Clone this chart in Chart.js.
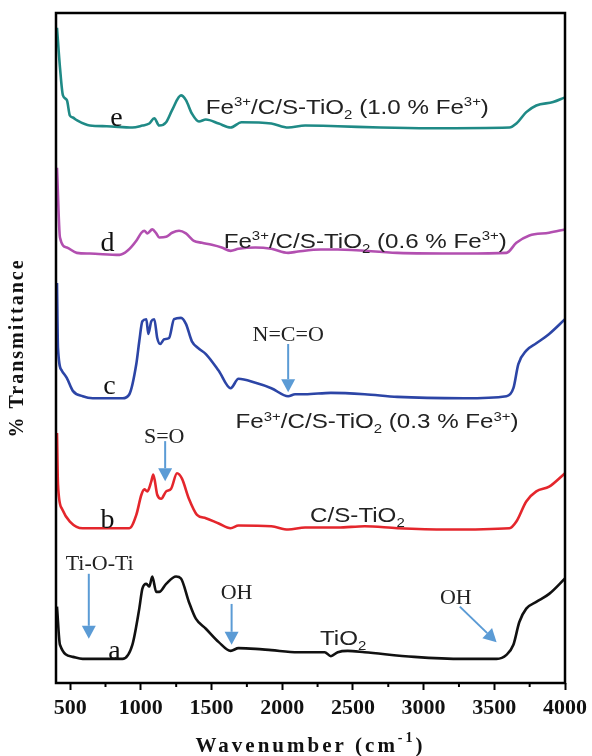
<!DOCTYPE html>
<html>
<head>
<meta charset="utf-8">
<script src="https://cdn.jsdelivr.net/npm/chart.js@4.4.1/dist/chart.umd.min.js"></script>
<style>
  html, body { margin: 0; padding: 0; background: #fff; }
  canvas { display: block; }
</style>
</head>
<body>
<canvas id="chart" width="592" height="756"></canvas>
<script>
// FTIR spectra, wavenumber (cm-1) vs. transmittance, curves offset for stacking
// a: TiO2
const waveA  = [407, 428, 519, 589, 870, 940, 989, 1011, 1039, 1060, 1081, 1109, 1130, 1179, 1249, 1284, 1340, 1389, 1460, 1551, 1635, 1691, 1811, 1923, 2112, 2300, 2344, 2393, 2463, 2583, 2934, 3284, 3516, 3586, 3635, 3677, 3726, 3797, 3888, 4000];
const transA = [11.4, 5.7, 3.9, 3.6, 3.6, 5.7, 11.1, 14.1, 14.8, 14.4, 15.9, 13.6, 13.6, 14.8, 15.9, 15.6, 12.1, 9.6, 8.1, 6.1, 4.8, 5.2, 5.1, 4.9, 4.6, 4.6, 4.0, 4.6, 4.8, 4.6, 3.9, 3.6, 3.6, 4.2, 5.7, 9.1, 11.1, 12.1, 13.3, 15.6];

// b: C/S-TiO2
const waveB  = [407, 414, 442, 498, 589, 919, 968, 1004, 1025, 1046, 1074, 1088, 1116, 1144, 1179, 1214, 1256, 1291, 1340, 1397, 1460, 1551, 1635, 1691, 1923, 2042, 2162, 2393, 2583, 2814, 3165, 3607, 3656, 3726, 3797, 3888, 4000];
const transB = [37.3, 29.6, 26.0, 24.1, 23.1, 23.1, 25.1, 28.1, 28.9, 28.6, 30.1, 31.1, 28.1, 27.5, 28.6, 29.0, 31.3, 30.5, 27.5, 25.1, 24.6, 23.8, 23.1, 23.5, 23.4, 22.9, 23.2, 23.2, 23.4, 23.1, 22.9, 23.1, 24.1, 27.1, 28.6, 29.3, 31.3];

// c: Fe3+/C/S-TiO2 (0.3 % Fe3+)
const waveC  = [407, 414, 442, 477, 519, 589, 660, 870, 919, 968, 989, 1011, 1039, 1053, 1074, 1095, 1116, 1137, 1165, 1200, 1235, 1284, 1319, 1361, 1411, 1460, 1551, 1635, 1691, 1811, 1923, 2042, 2091, 2162, 2344, 2583, 2814, 3284, 3586, 3635, 3670, 3726, 3797, 3888, 4000];
const transC = [59.7, 50.0, 46.6, 45.5, 43.6, 42.8, 42.5, 42.5, 43.1, 47.6, 51.0, 54.0, 54.3, 52.1, 54.0, 54.3, 51.5, 50.6, 51.3, 51.5, 54.3, 54.5, 53.6, 51.0, 49.9, 49.1, 46.6, 44.0, 45.4, 44.8, 44.0, 42.8, 43.1, 43.1, 43.3, 43.1, 42.7, 42.5, 42.8, 44.0, 47.6, 49.6, 50.7, 52.1, 54.3];

// d: Fe3+/C/S-TiO2 (0.6 % Fe3+)
const waveD  = [407, 428, 477, 547, 639, 849, 905, 968, 1004, 1025, 1046, 1081, 1109, 1130, 1179, 1221, 1270, 1319, 1375, 1432, 1502, 1572, 1635, 1691, 1811, 1923, 2042, 2112, 2274, 2393, 2814, 3284, 3586, 3656, 3748, 3888, 4000];
const transD = [76.9, 66.5, 65.0, 64.2, 64.1, 63.9, 64.5, 66.0, 67.2, 67.5, 67.1, 67.7, 67.1, 66.5, 66.6, 67.2, 67.5, 67.1, 66.0, 65.7, 65.4, 65.0, 64.5, 64.8, 65.0, 64.8, 64.2, 64.4, 64.7, 64.7, 64.2, 64.1, 64.2, 65.7, 66.8, 67.2, 67.7];

// e: Fe3+/C/S-TiO2 (1.0 % Fe3+)
const waveE  = [407, 428, 449, 477, 498, 519, 547, 639, 758, 940, 1011, 1060, 1095, 1130, 1179, 1221, 1284, 1319, 1361, 1411, 1460, 1551, 1635, 1712, 1923, 2042, 2162, 2393, 2695, 3046, 3607, 3656, 3726, 3797, 3916, 4000];
const transE = [97.8, 91.9, 87.7, 87.0, 84.7, 84.4, 84.0, 83.2, 83.1, 82.9, 83.2, 83.5, 84.3, 83.2, 83.7, 85.5, 87.7, 87.0, 85.0, 83.8, 84.1, 83.5, 82.9, 83.7, 83.5, 82.9, 83.2, 83.1, 82.9, 82.8, 82.9, 83.5, 85.2, 86.2, 86.7, 87.4];

const xTicks = [500, 1000, 1500, 2000, 2500, 3000, 3500, 4000];
const xMinorTicks = [750, 1250, 1750, 2250, 2750, 3250, 3750];

const curveLetters = ['a', 'b', 'c', 'd', 'e'];
const curveColors = ['#111111', '#e4262c', '#2c45a6', '#b24fb0', '#1f8a86'];
// where each letter sits: [wavenumber, transmittance]
const letterPos = [[814, 3.6], [765, 23.2], [779, 43.1], [765, 64.5], [828, 83.1]];

// sample names, ^{} = superscript, _{} = subscript
const sampleNames = ['TiO_{2}', 'C/S-TiO_{2}', 'Fe^{3+}/C/S-TiO_{2} (0.3 % Fe^{3+})', 'Fe^{3+}/C/S-TiO_{2} (0.6 % Fe^{3+})', 'Fe^{3+}/C/S-TiO_{2} (1.0 % Fe^{3+})'];
const namePos = [[2267, 5.7], [2197, 24.1], [1670, 38.0], [1586, 65.0], [1460, 85.0]];

// band assignments: label, label position, arrow start, arrow tip
const bandLabels = ['Ti-O-Ti', 'OH', 'OH', 'S=O', 'N=C=O'];
const bandLabelPos = [[709, 16.9], [1677, 12.6], [3228, 11.8], [1165, 35.8], [2042, 51.0]];
const arrowFrom = [[632, 16.3], [1642, 11.8], [3256, 11.4], [1172, 36.1], [2042, 50.6]];
const arrowTo = [[632, 6.6], [1642, 5.7], [3516, 6.1], [1172, 30.1], [2042, 43.4]];

const SERIF = '"Liberation Serif", "Times New Roman", serif';
const SANS = '"Liberation Sans", Arial, sans-serif';
const ARROW = '#5b9bd5';

function toPoints(w, t) {
  return w.map((v, i) => ({ x: v, y: t[i] }));
}

// draws text with ^{..} and _{..} parts, left aligned on the baseline
function drawRich(ctx, str, x, y, size, sx) {
  const parts = [];
  const re = /(\^|_)\{([^}]*)\}/g;
  let last = 0, m;
  while ((m = re.exec(str)) !== null) {
    if (m.index > last) parts.push({ t: str.slice(last, m.index) });
    parts.push({ t: m[2], sup: m[1] === '^', sub: m[1] === '_' });
    last = re.lastIndex;
  }
  if (last < str.length) parts.push({ t: str.slice(last) });

  ctx.save();
  ctx.translate(x, y);
  ctx.scale(sx, 1);
  ctx.textAlign = 'left';
  ctx.textBaseline = 'alphabetic';
  let cx = 0;
  parts.forEach(p => {
    const s = (p.sup || p.sub) ? Math.round(size * 0.62) : size;
    ctx.font = s + 'px ' + SANS;
    const dy = p.sup ? -size * 0.36 : p.sub ? size * 0.24 : 0;
    ctx.fillText(p.t, cx, dy);
    cx += ctx.measureText(p.t).width;
  });
  ctx.restore();
}

function drawArrow(ctx, x1, y1, x2, y2) {
  const ang = Math.atan2(y2 - y1, x2 - x1);
  const headLen = 13, headHalf = 7;
  const bx = x2 - headLen * Math.cos(ang), by = y2 - headLen * Math.sin(ang);
  ctx.save();
  ctx.strokeStyle = ARROW;
  ctx.fillStyle = ARROW;
  ctx.lineWidth = 2;
  ctx.beginPath();
  ctx.moveTo(x1, y1);
  ctx.lineTo(bx, by);
  ctx.stroke();
  ctx.beginPath();
  ctx.moveTo(x2, y2);
  ctx.lineTo(bx + headHalf * Math.sin(ang), by - headHalf * Math.cos(ang));
  ctx.lineTo(bx - headHalf * Math.sin(ang), by + headHalf * Math.cos(ang));
  ctx.closePath();
  ctx.fill();
  ctx.restore();
}

const decorations = {
  id: 'decorations',
  beforeDraw(chart) {
    const ctx = chart.ctx;
    ctx.save();
    ctx.fillStyle = '#fff';
    ctx.fillRect(0, 0, chart.width, chart.height);
    ctx.restore();
  },
  afterDraw(chart) {
    const ctx = chart.ctx;
    const xs = chart.scales.x, ys = chart.scales.y;
    const area = chart.chartArea;
    const px = v => xs.getPixelForValue(v);
    const py = v => ys.getPixelForValue(v);

    // frame
    ctx.save();
    ctx.strokeStyle = '#000';
    ctx.lineWidth = 2.5;
    ctx.strokeRect(area.left, area.top, area.right - area.left, area.bottom - area.top);

    // minor ticks
    ctx.lineWidth = 2;
    xMinorTicks.forEach(v => {
      ctx.beginPath();
      ctx.moveTo(px(v), area.bottom);
      ctx.lineTo(px(v), area.bottom + 4);
      ctx.stroke();
    });
    ctx.restore();

    // curve letters
    ctx.save();
    ctx.fillStyle = '#111';
    ctx.font = '28px ' + SERIF;
    ctx.textAlign = 'center';
    ctx.textBaseline = 'alphabetic';
    curveLetters.forEach((l, i) => {
      ctx.fillText(l, px(letterPos[i][0]), py(letterPos[i][1]));
    });
    ctx.restore();

    // sample names
    ctx.save();
    ctx.fillStyle = '#222';
    sampleNames.forEach((n, i) => {
      drawRich(ctx, n, px(namePos[i][0]), py(namePos[i][1]), 21, 1.15);
    });
    ctx.restore();

    // band arrows and labels
    bandLabels.forEach((l, i) => {
      drawArrow(ctx, px(arrowFrom[i][0]), py(arrowFrom[i][1]), px(arrowTo[i][0]), py(arrowTo[i][1]));
    });
    ctx.save();
    ctx.fillStyle = '#222';
    ctx.font = '22px ' + SERIF;
    ctx.textAlign = 'center';
    ctx.textBaseline = 'alphabetic';
    bandLabels.forEach((l, i) => {
      ctx.fillText(l, px(bandLabelPos[i][0]), py(bandLabelPos[i][1]));
    });
    ctx.restore();

    // axis titles
    ctx.save();
    ctx.fillStyle = '#111';
    ctx.font = 'bold 21px ' + SERIF;
    ctx.letterSpacing = '3px';
    ctx.textBaseline = 'alphabetic';
    const main = 'Wavenumber (cm';
    const sup = '-1';
    const wMain = ctx.measureText(main).width;
    ctx.font = 'bold 14px ' + SERIF;
    const wSup = ctx.measureText(sup).width;
    ctx.font = 'bold 21px ' + SERIF;
    const wEnd = ctx.measureText(')').width;
    let x0 = (area.left + area.right) / 2 - (wMain + wSup + wEnd) / 2;
    const yb = 752;
    ctx.textAlign = 'left';
    ctx.fillText(main, x0, yb);
    ctx.font = 'bold 14px ' + SERIF;
    ctx.fillText(sup, x0 + wMain, yb - 10);
    ctx.font = 'bold 21px ' + SERIF;
    ctx.fillText(')', x0 + wMain + wSup, yb);

    ctx.translate(18, (area.top + area.bottom) / 2);
    ctx.rotate(-Math.PI / 2);
    ctx.textAlign = 'center';
    ctx.textBaseline = 'middle';
    ctx.font = 'bold 20px ' + SERIF;
    ctx.letterSpacing = '2px';
    ctx.fillText('% Transmittance', 0, 0);
    ctx.restore();
  }
};

const datasets = [
  toPoints(waveA, transA),
  toPoints(waveB, transB),
  toPoints(waveC, transC),
  toPoints(waveD, transD),
  toPoints(waveE, transE)
].map((pts, i) => ({
  label: curveLetters[i],
  data: pts,
  borderColor: curveColors[i],
  borderWidth: 2.6,
  pointRadius: 0,
  fill: false,
  cubicInterpolationMode: 'monotone'
}));

const chart = new Chart(document.getElementById('chart').getContext('2d'), {
  type: 'line',
  data: { datasets: datasets },
  plugins: [decorations],
  options: {
    responsive: false,
    animation: false,
    layout: { padding: { left: 56, right: 20, top: 13, bottom: 0 } },
    plugins: { legend: { display: false }, tooltip: { enabled: false } },
    scales: {
      x: {
        type: 'linear',
        min: 400,
        max: 4000,
        afterBuildTicks: scale => { scale.ticks = xTicks.map(v => ({ value: v })); },
        afterFit: scale => { scale.height = 73; },
        border: { display: false },
        grid: { drawOnChartArea: false, drawTicks: true, tickLength: 7, tickWidth: 2, tickColor: '#000' },
        ticks: {
          color: '#111',
          padding: 5,
          maxRotation: 0,
          callback: v => String(v),
          font: { family: SERIF, size: 22, weight: 'bold' }
        }
      },
      y: {
        display: false,
        min: 0,
        max: 100
      }
    }
  }
});
</script>
</body>
</html>
